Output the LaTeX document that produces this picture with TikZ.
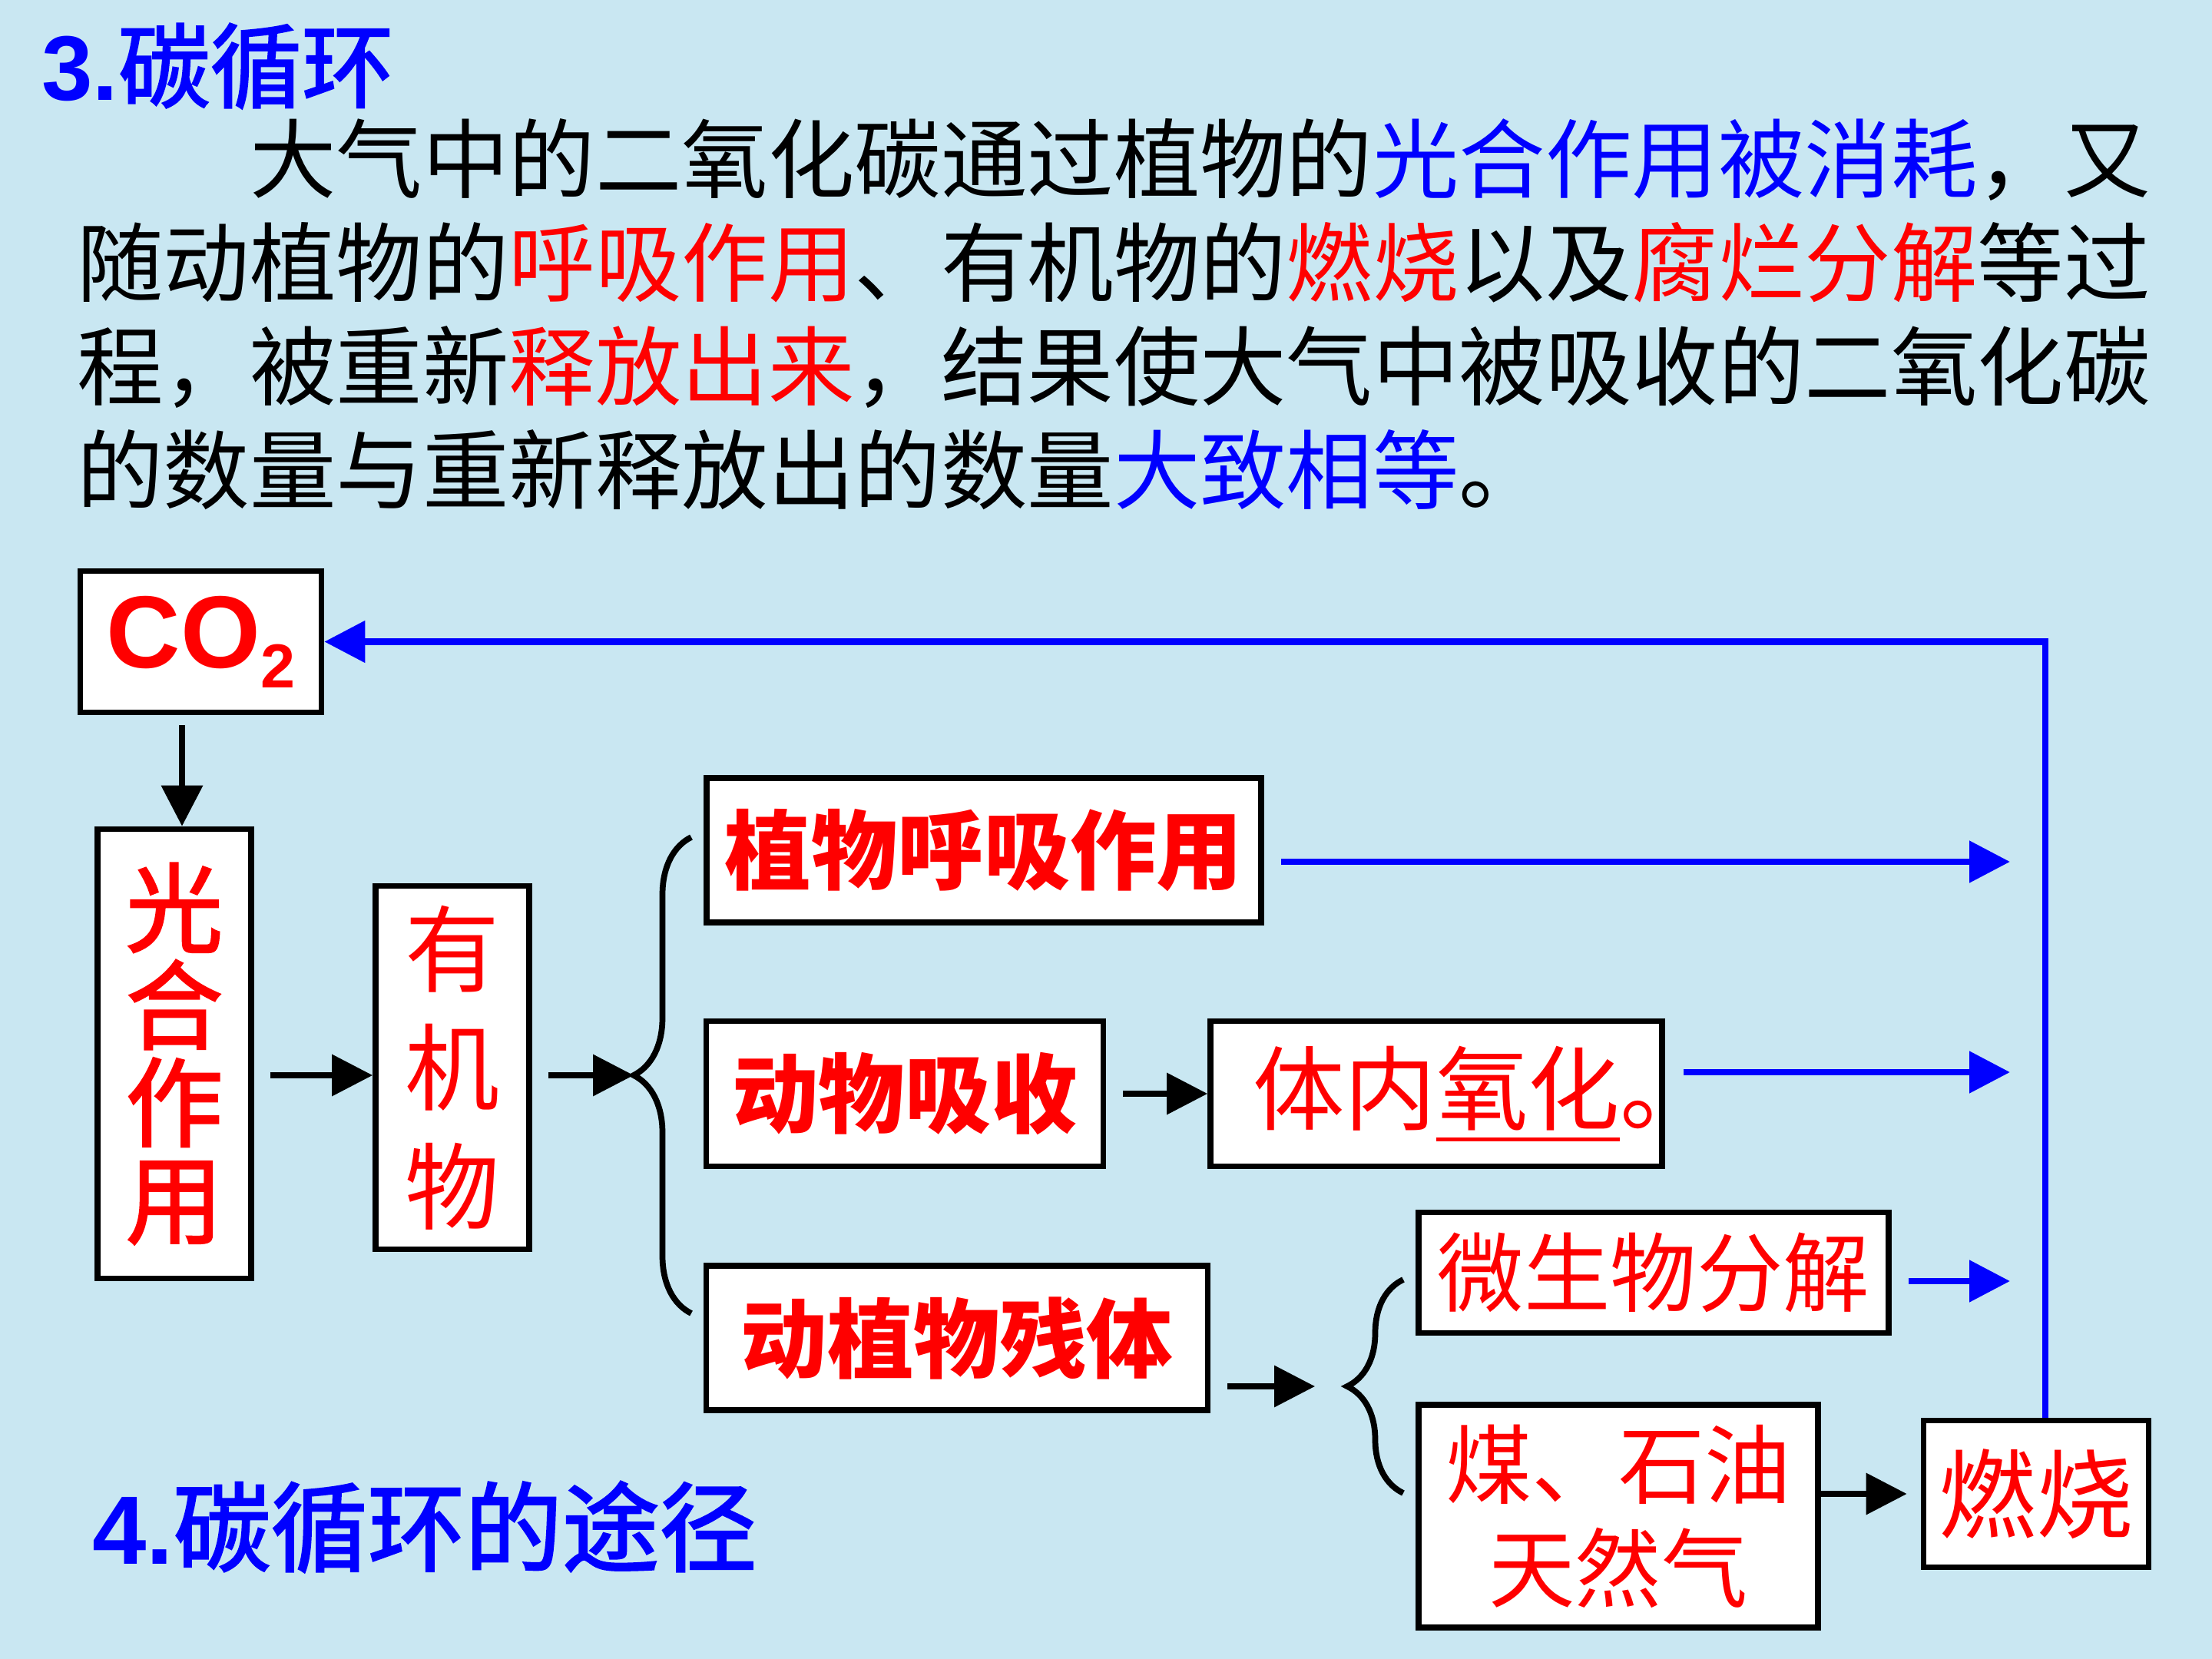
\documentclass[tikz,border=0pt]{standalone}
\usepackage{fontspec}
\usetikzlibrary{arrows.meta,decorations.pathreplacing}
\newfontfamily\cjk{Noto Sans CJK SC}
\newfontfamily\cjkmid{Noto Sans CJK SC}[FakeBold=2]
\newfontfamily\arialfont{Liberation Sans}
\definecolor{slidebg}{RGB}{201,231,242}
\definecolor{pptblue}{RGB}{0,0,255}
\definecolor{pptred}{RGB}{255,0,0}
\newcommand{\redline}[1]{\setbox0=\hbox{#1}\rlap{\rule[-0.24cm]{\wd0}{1.4pt}}\box0}

\begin{document}
\begin{tikzpicture}[every node/.style={font=\cjk},
  box/.style={draw=black,line width=2.2pt,fill=white,inner sep=0pt,text=pptred,align=center},
  arr/.style={color=black,line width=2pt,-{Triangle[length=0.53cm,width=0.53cm]}},
  bluearr/.style={arr,color=pptblue,line width=2.4pt},
  bracket/.style={line width=2.2pt,decorate,decoration={brace,amplitude=#1}},
  bodyline/.style={anchor=west,font=\cjk\fontsize{32}{38}\selectfont}]
\fill[slidebg] (0,0) rectangle (28.8,-21.6);
\useasboundingbox (0,0) rectangle (28.8,-21.6);

% heading and text
\node[anchor=west,text=pptblue] (title) at (0.42,-0.86)
  {{\arialfont\bfseries\fontsize{34}{34}\selectfont 3.}{\cjkmid\fontsize{34}{34}\selectfont 碳循环}};
\node[bodyline] (line1) at (0.88,-2.08) {\hspace*{2em}大气中的二氧化碳通过植物的\textcolor{pptblue}{光合作用被消耗}，又};
\node[bodyline] (line2) at (0.88,-3.42) {随动植物的\textcolor{pptred}{呼吸作用}、有机物的\textcolor{pptred}{燃烧}以及\textcolor{pptred}{腐烂分解}等过};
\node[bodyline] (line3) at (0.88,-4.78) {程，被重新\textcolor{pptred}{释放出来}，结果使大气中被吸收的二氧化碳};
\node[bodyline] (line4) at (0.88,-6.12) {的数量与重新释放出的数量\textcolor{pptblue}{大致相等}。};
\node[anchor=west,text=pptblue] (subtitle) at (1.08,-19.88)
  {{\arialfont\bfseries\fontsize{36}{36}\selectfont 4.}{\cjkmid\fontsize{36}{36}\selectfont 碳循环的途径}};

% boxes
\node[box,minimum width=3.14cm,minimum height=1.84cm,font=\arialfont\bfseries\fontsize{38}{38}\selectfont]
  (co2) at (2.615,-8.355) {CO\raisebox{-0.26cm}{\fontsize{23}{23}\selectfont 2}};
\node[box,minimum width=2.0cm,minimum height=5.85cm,font=\cjkmid\fontsize{36}{36}\selectfont]
  (photo) at (2.27,-13.72) {光\\合\\作\\用};
\node[box,minimum width=2.0cm,minimum height=4.73cm,font=\cjk\fontsize{35}{44}\selectfont]
  (organic) at (5.89,-13.9) {有\\机\\物};
\node[box,minimum width=7.22cm,minimum height=1.88cm,font=\cjk\bfseries\fontsize{32}{38}\selectfont]
  (plantresp) at (12.81,-11.07) {植物呼吸作用};
\node[box,minimum width=5.17cm,minimum height=1.89cm,font=\cjk\bfseries\fontsize{32}{38}\selectfont]
  (animal) at (11.78,-14.24) {动物吸收};
\node[box,minimum width=5.88cm,minimum height=1.89cm,font=\cjk\fontsize{34}{38}\selectfont]
  (oxid) at (18.70,-14.24) {体内\redline{氧化}\rlap{。}};
\node[box,minimum width=6.53cm,minimum height=1.88cm,font=\cjk\bfseries\fontsize{32}{38}\selectfont]
  (remains) at (12.46,-17.42) {动植物残体};
\node[box,minimum width=6.12cm,minimum height=1.57cm,font=\cjk\fontsize{32}{38}\selectfont]
  (microbe) at (21.53,-16.57) {微生物分解};
\node[box,minimum width=5.2cm,minimum height=2.9cm,font=\cjk\fontsize{32}{38.4}\selectfont]
  (fossil) at (21.07,-19.74) {煤、石油\\天然气};
\node[box,minimum width=2.93cm,minimum height=1.91cm,font=\cjk\fontsize{36}{38}\selectfont]
  (burn) at (26.51,-19.45) {燃烧};

% braces
\draw[bracket=0.75cm] (9.0,-17.1) -- (9.0,-10.9);
\coordinate (tip1) at (8.25,-14.0);
\draw[bracket=0.73cm] (18.27,-19.44) -- (18.27,-16.66);
\coordinate (tip2) at (17.54,-18.05);

% black arrows
\draw[arr] ([xshift=1mm,yshift=-1.3mm]co2.south -| photo.north) -- ([xshift=1mm]photo.north);
\draw[arr] ([xshift=2.1mm]photo.east |- tip1) -- (organic.west |- tip1);
\draw[arr] ([xshift=2.1mm]organic.east |- tip1) -- (tip1);
\draw[arr] ([xshift=2.2mm]animal.east) -- (oxid.west);
\draw[arr] ([xshift=2.2mm]remains.east |- tip2) -- ([xshift=-4.2mm]tip2);
\draw[arr] (fossil.east |- burn.west) -- ([xshift=-1.8mm]burn.west);

% blue arrows back to CO2
\coordinate (riser) at ([xshift=1.2mm]burn.north);
\draw[bluearr] (riser) |- (co2.east);
\draw[bluearr] ([xshift=2.2mm,yshift=-1.5mm]plantresp.east) -- ([xshift=-4.6mm,yshift=-1.5mm]plantresp.east -| riser);
\draw[bluearr] ([xshift=2.4mm,yshift=2.8mm]oxid.east) -- ([xshift=-4.6mm,yshift=2.8mm]oxid.east -| riser);
\draw[bluearr] ([xshift=2.2mm,yshift=-1.1mm]microbe.east) -- ([xshift=-4.6mm,yshift=-1.1mm]microbe.east -| riser);
\end{tikzpicture}
\end{document}
